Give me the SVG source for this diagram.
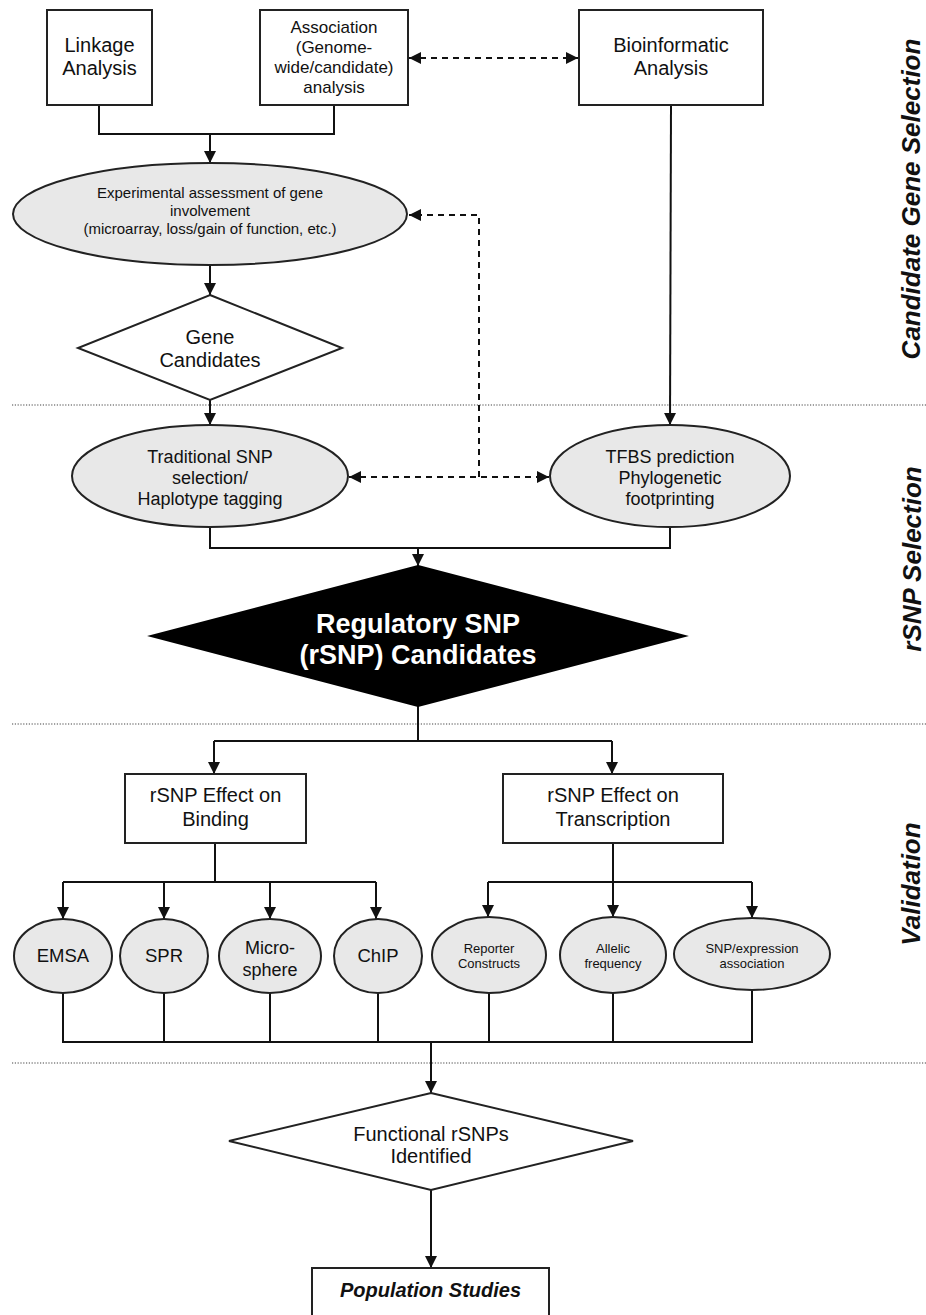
<svg xmlns="http://www.w3.org/2000/svg" width="926" height="1315" viewBox="0 0 926 1315">
<style>
text{font-family:"Liberation Sans",Arial,sans-serif;fill:#111;text-anchor:middle}
.box{fill:#fff;stroke:#222;stroke-width:2}
.ell{fill:#e8e8e8;stroke:#222;stroke-width:2}
.ln{fill:none;stroke:#111;stroke-width:2}
.ar{fill:none;stroke:#111;stroke-width:2;marker-end:url(#ah)}
.ds{fill:none;stroke:#111;stroke-width:2;stroke-dasharray:6,5}
.dot{stroke:#444;stroke-width:1.2;stroke-dasharray:1.2,1.6}
.side{font-weight:bold;font-style:italic;font-size:26px}
</style>
<defs>
<marker id="ah" viewBox="0 0 12 12" refX="12" refY="6" markerWidth="12" markerHeight="12" markerUnits="userSpaceOnUse" orient="auto-start-reverse"><path d="M0,0 L12,6 L0,12 z" fill="#111"/></marker>
</defs>
<rect width="926" height="1315" fill="#fff"/>

<g id="separators">
<line class="dot" x1="12" y1="405" x2="926" y2="405"/>
<line class="dot" x1="12" y1="724" x2="926" y2="724"/>
<line class="dot" x1="12" y1="1063" x2="926" y2="1063"/>
</g>

<g id="connectors">
<polyline class="ln" points="99,105 99,134 334,134 334,105"/>
<line class="ar" x1="210" y1="134" x2="210" y2="163"/>
<line class="ar" x1="210" y1="265" x2="210" y2="295"/>
<line class="ar" x1="210" y1="400" x2="210" y2="425"/>
<line class="ar" x1="671" y1="105" x2="670" y2="425"/>
<line class="ds" x1="409" y1="58" x2="578" y2="58" marker-start="url(#ah)" marker-end="url(#ah)"/>
<polyline class="ds" points="479,477 479,215 409,215" marker-end="url(#ah)"/>
<line class="ds" x1="349" y1="477" x2="549" y2="477" marker-start="url(#ah)" marker-end="url(#ah)"/>
<polyline class="ln" points="210,528 210,548 670,548 670,528"/>
<line class="ar" x1="418" y1="548" x2="418" y2="566"/>
<line class="ln" x1="418" y1="706" x2="418" y2="741"/>
<line class="ln" x1="214" y1="741" x2="612" y2="741"/>
<line class="ar" x1="214" y1="741" x2="214" y2="774"/>
<line class="ar" x1="612" y1="741" x2="612" y2="774"/>
<line class="ln" x1="215" y1="843" x2="215" y2="882"/>
<line class="ln" x1="63" y1="882" x2="376" y2="882"/>
<line class="ar" x1="63" y1="882" x2="63" y2="919"/>
<line class="ar" x1="164" y1="882" x2="164" y2="919"/>
<line class="ar" x1="270" y1="882" x2="270" y2="919"/>
<line class="ar" x1="376" y1="882" x2="376" y2="919"/>
<line class="ln" x1="613" y1="843" x2="613" y2="882"/>
<line class="ln" x1="488" y1="882" x2="752" y2="882"/>
<line class="ar" x1="488" y1="882" x2="488" y2="917"/>
<line class="ar" x1="613" y1="882" x2="613" y2="917"/>
<line class="ar" x1="752" y1="882" x2="752" y2="918"/>
<polyline class="ln" points="63,993 63,1042 752,1042 752,990"/>
<line class="ln" x1="164" y1="993" x2="164" y2="1042"/>
<line class="ln" x1="270" y1="993" x2="270" y2="1042"/>
<line class="ln" x1="378" y1="993" x2="378" y2="1042"/>
<line class="ln" x1="489" y1="993" x2="489" y2="1042"/>
<line class="ln" x1="613" y1="993" x2="613" y2="1042"/>
<line class="ar" x1="431" y1="1042" x2="431" y2="1093"/>
<line class="ar" x1="431" y1="1190" x2="431" y2="1268"/>
</g>

<g id="linkage">
<rect class="box" x="47" y="10" width="105" height="95"/>
<text x="99.5" y="52" font-size="20">Linkage</text>
<text x="99.5" y="75" font-size="20">Analysis</text>
</g>
<g id="association">
<rect class="box" x="260" y="10" width="148" height="95"/>
<text x="334" y="33" font-size="17">Association</text>
<text x="334" y="53" font-size="17">(Genome-</text>
<text x="334" y="73" font-size="17">wide/candidate)</text>
<text x="334" y="93" font-size="17">analysis</text>
</g>
<g id="bioinformatic">
<rect class="box" x="579" y="10" width="184" height="95"/>
<text x="671" y="52" font-size="20">Bioinformatic</text>
<text x="671" y="75" font-size="20">Analysis</text>
</g>
<g id="experimental">
<ellipse class="ell" cx="210" cy="214" rx="197" ry="51"/>
<text x="210" y="198" font-size="15">Experimental assessment of gene</text>
<text x="210" y="216" font-size="15">involvement</text>
<text x="210" y="234" font-size="15">(microarray, loss/gain of function, etc.)</text>
</g>
<g id="gene-candidates">
<polygon class="box" points="210,295 342,348 210,400 78,348"/>
<text x="210" y="344" font-size="20">Gene</text>
<text x="210" y="367" font-size="20">Candidates</text>
</g>
<g id="traditional">
<ellipse class="ell" cx="210" cy="476" rx="138" ry="51"/>
<text x="210" y="463" font-size="18">Traditional SNP</text>
<text x="210" y="484" font-size="18">selection/</text>
<text x="210" y="505" font-size="18">Haplotype tagging</text>
</g>
<g id="tfbs">
<ellipse class="ell" cx="670" cy="476" rx="120" ry="51"/>
<text x="670" y="463" font-size="18">TFBS prediction</text>
<text x="670" y="484" font-size="18">Phylogenetic</text>
<text x="670" y="505" font-size="18">footprinting</text>
</g>
<g id="rsnp-candidates">
<polygon points="418,566 685,636 418,706 151,636" fill="#000" stroke="#000" stroke-width="2"/>
<text x="418" y="633" font-size="27" font-weight="bold" style="fill:#fff">Regulatory SNP</text>
<text x="418" y="664" font-size="27" font-weight="bold" style="fill:#fff">(rSNP) Candidates</text>
</g>
<g id="binding">
<rect class="box" x="125" y="774" width="181" height="69"/>
<text x="215.5" y="802" font-size="20">rSNP Effect on</text>
<text x="215.5" y="826" font-size="20">Binding</text>
</g>
<g id="transcription">
<rect class="box" x="503" y="774" width="220" height="69"/>
<text x="613" y="802" font-size="20">rSNP Effect on</text>
<text x="613" y="826" font-size="20">Transcription</text>
</g>
<g id="emsa">
<ellipse class="ell" cx="63" cy="956" rx="49" ry="37"/>
<text x="63" y="962" font-size="18.5">EMSA</text>
</g>
<g id="spr">
<ellipse class="ell" cx="164" cy="956" rx="44" ry="37"/>
<text x="164" y="962" font-size="18.5">SPR</text>
</g>
<g id="microsphere">
<ellipse class="ell" cx="270" cy="956" rx="51" ry="37"/>
<text x="270" y="954" font-size="18">Micro-</text>
<text x="270" y="976" font-size="18">sphere</text>
</g>
<g id="chip">
<ellipse class="ell" cx="378" cy="956" rx="44" ry="37"/>
<text x="378" y="962" font-size="18.5">ChIP</text>
</g>
<g id="reporter">
<ellipse class="ell" cx="489" cy="955" rx="57" ry="38"/>
<text x="489" y="953" font-size="13">Reporter</text>
<text x="489" y="968" font-size="13">Constructs</text>
</g>
<g id="allelic">
<ellipse class="ell" cx="613" cy="955" rx="53" ry="38"/>
<text x="613" y="953" font-size="13">Allelic</text>
<text x="613" y="968" font-size="13">frequency</text>
</g>
<g id="snp-expression">
<ellipse class="ell" cx="752" cy="954" rx="78" ry="36"/>
<text x="752" y="953" font-size="13">SNP/expression</text>
<text x="752" y="968" font-size="13">association</text>
</g>
<g id="functional">
<polygon class="box" points="431,1093 633,1141 431,1190 229,1141"/>
<text x="431" y="1141" font-size="20">Functional rSNPs</text>
<text x="431" y="1163" font-size="20">Identified</text>
</g>
<g id="population">
<rect class="box" x="312" y="1268" width="237" height="60"/>
<text x="430.5" y="1297" font-size="20" font-weight="bold" font-style="italic">Population Studies</text>
</g>

<g id="section-labels">
<text class="side" transform="translate(920,199) rotate(-90)">Candidate Gene Selection</text>
<text class="side" transform="translate(921,559) rotate(-90)">rSNP Selection</text>
<text class="side" transform="translate(920,884) rotate(-90)">Validation</text>
</g>
</svg>
